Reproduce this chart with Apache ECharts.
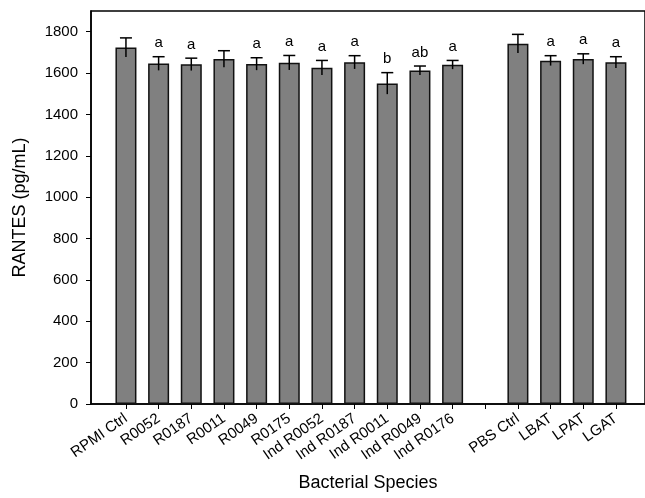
<!DOCTYPE html>
<html>
<head>
<meta charset="utf-8">
<script src="https://cdn.jsdelivr.net/npm/echarts@6/dist/echarts.min.js"></script>
<style>
html,body{margin:0;padding:0;background:#fff;}
#chart{width:645px;height:498px;}
</style>
</head>
<body>
<div id="chart"></div>
<script>
const categories = ['RPMI Ctrl','R0052','R0187','R0011','R0049','R0175','Ind R0052','Ind R0187','Ind R0011','Ind R0049','Ind R0176','','PBS Ctrl','LBAT','LPAT','LGAT'];
const values = [1724,1646,1642,1668,1644,1650,1626,1652,1550,1612,1640,null,1742,1660,1668,1652];
const errors = [46,33,30,40,30,35,35,32,52,22,21,null,45,24,25,27];
const letters = ['','a','a','','a','a','a','a','b','ab','a','','','a','a','a'];
const yTicks = [0,200,400,600,800,1000,1200,1400,1600,1800];
const xTickIdx = categories.map((c,i)=>i);

const FONT = "'Liberation Sans', Arial, sans-serif";
const chart = echarts.init(document.getElementById('chart'));
const barData = [];
const errData = [];
const errLetters = [];
values.forEach((v,i)=>{
  if (v != null) {
    barData.push([i, v]);
    errData.push([i, v, errors[i]]);
    errLetters.push(letters[i]);
  }
});

chart.setOption({
  animation: false,
  backgroundColor: '#fff',
  grid: {left: 91, right: -1, top: 11, bottom: 94, show: true, borderColor: '#000', borderWidth: 1.5},
  xAxis: {
    type: 'value', min: -1.07, max: 15.89,
    name: 'Bacterial Species', nameLocation: 'middle', nameGap: 70,
    nameTextStyle: {fontFamily: FONT, fontSize: 18, color: '#000'},
    axisLine: {onZero: false, lineStyle: {color: '#000', width: 1.5}},
    axisTick: {customValues: xTickIdx, length: 5, lineStyle: {color: '#000'}},
    axisLabel: {customValues: xTickIdx, rotate: 35, margin: 13, fontFamily: FONT, fontSize: 15, color: '#000',
      formatter: v => categories[Math.round(v)] || ''},
    splitLine: {show: false}
  },
  yAxis: {
    type: 'value', min: 0, max: 1900, interval: 200,
    name: 'RANTES (pg/mL)', nameLocation: 'middle', nameGap: 62,
    nameTextStyle: {fontFamily: FONT, fontSize: 18, color: '#000'},
    axisLine: {show: true, onZero: false, lineStyle: {color: '#000', width: 1.5}},
    axisTick: {show: true, customValues: yTicks, length: 5, lineStyle: {color: '#000'}},
    axisLabel: {customValues: yTicks, margin: 13, fontFamily: FONT, fontSize: 15, color: '#000',
      formatter: v => String(v)},
    splitLine: {show: false}
  },
  series: [
    {
      type: 'bar', data: barData, barWidth: 21,
      itemStyle: {color: '#808080', borderColor: '#111', borderWidth: 1.5}
    },
    {
      type: 'custom', data: errData, z: 5,
      renderItem: function(params, api) {
        const x = api.value(0), v = api.value(1), e = api.value(2);
        const top = api.coord([x, v + e]);
        const bot = api.coord([x, v - e]);
        const children = [
          {type: 'line', shape: {x1: top[0], y1: top[1], x2: bot[0], y2: bot[1]}, style: {stroke: '#000', lineWidth: 1.5}},
          {type: 'line', shape: {x1: top[0]-6, y1: top[1], x2: top[0]+6, y2: top[1]}, style: {stroke: '#000', lineWidth: 1.5}}
        ];
        const lab = errLetters[params.dataIndex];
        if (lab) {
          children.push({type: 'text', x: top[0], y: top[1] - 6,
            style: {text: lab, fill: '#000', font: '15px ' + FONT, textAlign: 'center', textVerticalAlign: 'bottom'}});
        }
        return {type: 'group', children: children};
      }
    }
  ]
});
</script>
</body>
</html>
